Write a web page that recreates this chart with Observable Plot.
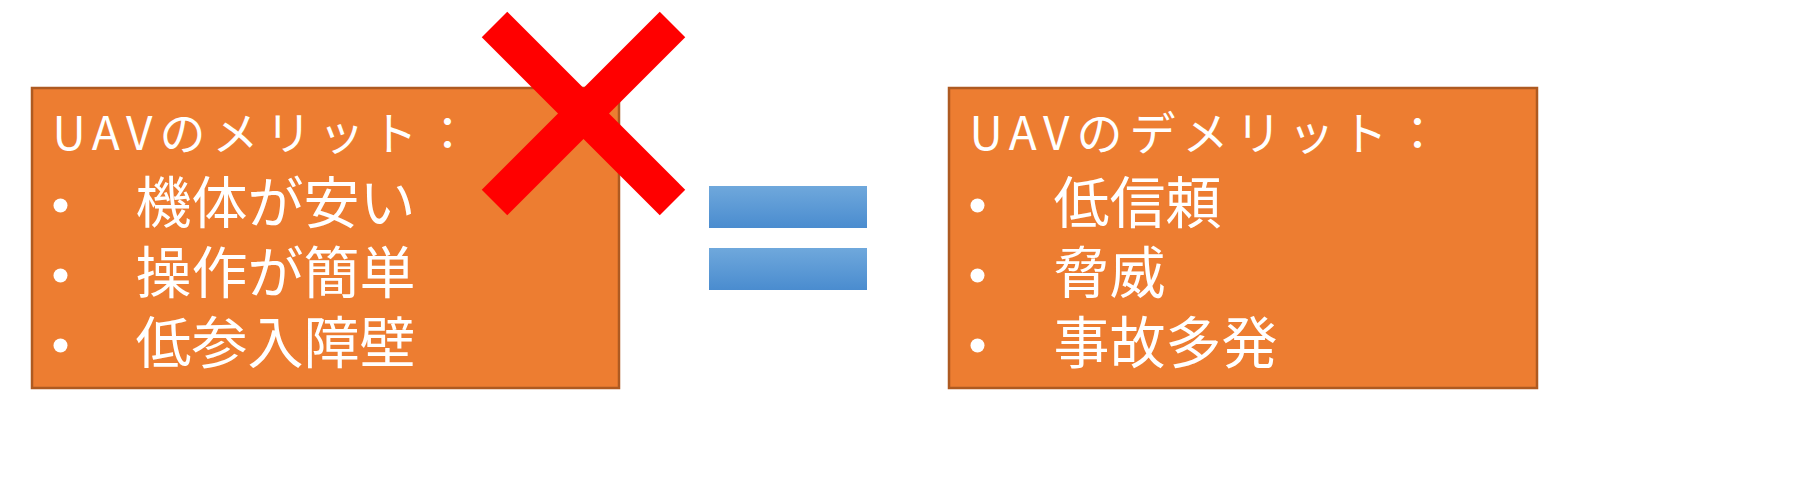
<!DOCTYPE html>
<html><head><meta charset="utf-8">
<script src="https://cdn.jsdelivr.net/npm/d3@7"></script>
<script src="https://cdn.jsdelivr.net/npm/@observablehq/plot@0.6"></script>
<style>body{margin:0;background:#fff}.ttl text{letter-spacing:7px}</style>
</head><body><div id="chart"></div>
<script>
// cajas: izquierda (méritos) y derecha (deméritos)
const boxes = [
  {x1: 32, x2: 619, y1: 88, y2: 388},
  {x1: 949, x2: 1537, y1: 88, y2: 388}
]
const titles = ["UAVのメリット：", "UAVのデメリット："]
const meritItems = ["機体が安い", "操作が簡単", "低参入障壁"]
const demeritItems = ["低信頼", "脅威", "事故多発"]
const rowY = [205, 275, 345]

const items = [
  ...meritItems.map((t, i) => ({t, x: 135, y: rowY[i], bx: 60})),
  ...demeritItems.map((t, i) => ({t, x: 1053, y: rowY[i], bx: 977}))
]
// signo igual
const bars = [{x1: 709, x2: 867, y1: 186, y2: 228}, {x1: 709, x2: 867, y1: 248, y2: 290}]
// cruz roja
const cross = [{x1: 494, y1: 24, x2: 672, y2: 202}, {x1: 672, y1: 24, x2: 494, y2: 202}]

const font = "Noto Sans CJK JP"
let chart = Plot.plot({
  width: 1798, height: 496, margin: 0,
  x: {domain: [0, 1798], axis: null},
  y: {domain: [0, 496], reverse: true, axis: null},
  style: {fontFamily: font},
  marks: [
    Plot.rect(boxes, {x1: "x1", x2: "x2", y1: "y1", y2: "y2", fill: "#ED7D31", stroke: "#AE5A21", strokeWidth: 2.5}),
    Plot.text(titles, {x: (d, i) => [52, 969][i], y: 135, text: d => d, textAnchor: "start", fill: "white", fontSize: 46, className: "ttl"}),
    Plot.dot(items, {x: "bx", y: "y", r: 7, fill: "white"}),
    Plot.text(items, {x: "x", y: "y", text: "t", textAnchor: "start", fill: "white", fontSize: 56}),
    Plot.rect(bars, {x1: "x1", x2: "x2", y1: "y1", y2: "y2", fill: "url(#blueg)"}),
    Plot.link(cross, {x1: "x1", y1: "y1", x2: "x2", y2: "y2", stroke: "#FF0000", strokeWidth: 36, strokeLinecap: "butt"})
  ]
})
const defs = d3.select(chart).insert("defs", ":first-child")
const g = defs.append("linearGradient").attr("id", "blueg").attr("x1", 0).attr("y1", 0).attr("x2", 0).attr("y2", 1)
g.append("stop").attr("offset", "0%").attr("stop-color", "#6FA8DC")
g.append("stop").attr("offset", "100%").attr("stop-color", "#4A8CCF")
d3.select('#chart').append(() => chart)
</script></body></html>
